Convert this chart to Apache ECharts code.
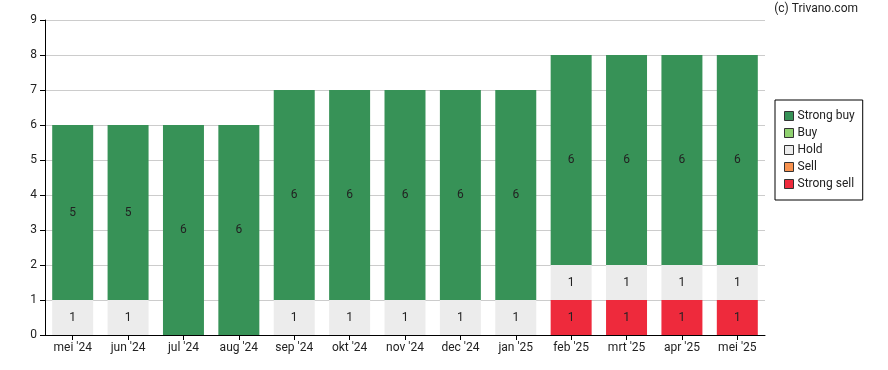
<!DOCTYPE html>
<html><head><meta charset="utf-8">
<script src="https://cdn.jsdelivr.net/npm/echarts@6/dist/echarts.min.js"></script>
<style>html,body{margin:0;padding:0;background:#fff}#c{width:888px;height:370px}</style>
</head><body><div id="c"></div>
<script>
const categories = ["mei '24","jun '24","jul '24","aug '24","sep '24","okt '24","nov '24","dec '24","jan '25","feb '25","mrt '25","apr '25","mei '25"];
const strongSell = [0,0,0,0,0,0,0,0,0,1,1,1,1];
const sell       = [0,0,0,0,0,0,0,0,0,0,0,0,0];
const hold       = [1,1,0,0,1,1,1,1,1,1,1,1,1];
const buy        = [0,0,0,0,0,0,0,0,0,0,0,0,0];
const strongBuy  = [5,5,6,6,6,6,6,6,6,6,6,6,6];
const yTicks = [0,1,2,3,4,5,6,7,8,9];

const font = 'Roboto';
function mk(name, data, color) {
  return {
    name, type: 'bar', stack: 'all', data, barWidth: '74%',
    itemStyle: { color },
    label: { show: true, position: 'inside', fontFamily: font, fontSize: 12, color: '#222',
      formatter: p => p.value ? String(p.value) : '' },
    emphasis: { disabled: true }
  };
}
const chart = echarts.init(document.getElementById('c'), null, { renderer: 'canvas' });
chart.setOption({
  animation: false,
  textStyle: { fontFamily: font },
  grid: { left: 45, right: 123, top: 20, bottom: 35 },
  graphic: [{ type: 'text', right: 30, top: 3, style: { text: '(c) Trivano.com', fontFamily: font, fontSize: 12, fill: '#222' } }],
  legend: {
    orient: 'vertical', left: 775, top: 100,
    data: ['Strong buy','Buy','Hold','Sell','Strong sell'],
    borderColor: '#000', borderWidth: 1, padding: [10, 8, 10, 9],
    itemWidth: 9, itemHeight: 9, itemGap: 5, icon: 'rect',
    itemStyle: { borderColor: '#333', borderWidth: 1 },
    textStyle: { fontFamily: font, fontSize: 12, color: '#222', padding: [0,0,0,-1] }
  },
  xAxis: {
    type: 'category', data: categories,
    axisLine: { lineStyle: { color: '#000', width: 1 } },
    axisTick: { show: true, alignWithLabel: true, length: 5, lineStyle: { color: '#000' } },
    axisLabel: { fontFamily: font, fontSize: 12, color: '#222', margin: 7, interval: 0 }
  },
  yAxis: {
    type: 'value', min: 0, max: 9, interval: 1,
    axisLine: { show: true, lineStyle: { color: '#000', width: 1 } },
    axisTick: { show: true, length: 5, lineStyle: { color: '#000' } },
    axisLabel: { fontFamily: font, fontSize: 12, color: '#222', margin: 8,
      formatter: v => yTicks.includes(v) ? String(v) : '' },
    splitLine: { lineStyle: { color: '#cccccc', width: 1 } }
  },
  series: [
    mk('Strong sell', strongSell, '#ee2a3c'),
    mk('Sell', sell, '#f7924f'),
    mk('Hold', hold, '#ececec'),
    mk('Buy', buy, '#90d170'),
    mk('Strong buy', strongBuy, '#379257')
  ]
});
</script></body></html>
